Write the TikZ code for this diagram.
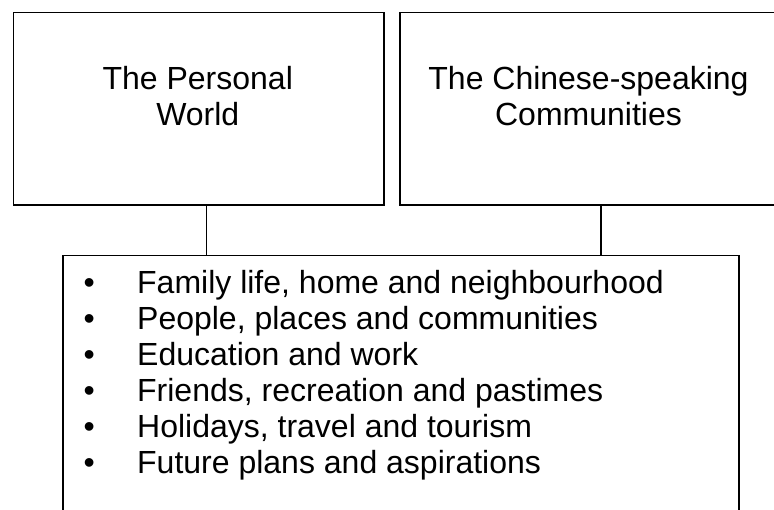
\documentclass[tikz,border=0pt]{standalone}
\usepackage{fontspec}
\setmainfont{Liberation Sans}
\tikzset{
  box/.style={draw=black, line width=1.7pt, anchor=north west, inner sep=0pt},
  link/.style={draw=black, line width=1.7pt},
  lbl/.style={inner sep=0pt, anchor=base, font=\fontsize{32}{36}\selectfont},
  lst/.style={inner sep=0pt, anchor=base west, font=\fontsize{32}{36.1}\selectfont}
}
\begin{document}
\begin{tikzpicture}[x=1pt,y=-1pt]
\useasboundingbox (0,0) rectangle (774,509);
\clip (0,0) rectangle (774,509);
\node[box, minimum width=370.5pt, minimum height=192.5pt] (pw) at (12.5,11.5) {};
\node[box, minimum width=379pt, minimum height=192.5pt] (cc) at (399,11.5) {};
\node[box, minimum width=676pt, minimum height=262pt] (list) at (62,254.5) {};
\node[lbl] (pwt) at (197.75,89) {\begin{tabular}[t]{@{}c@{}}The Personal\\World\end{tabular}};
\node[lbl] (cct) at (588.5,89) {\begin{tabular}[t]{@{}c@{}}The Chinese-speaking\\Communities\end{tabular}};
\node[lst] (items) at (79,293) {\begin{tabular}[t]{@{}c@{\hspace{38pt}}l@{}}
\makebox[20pt][c]{•} & Family life, home and neighbourhood\\
\makebox[20pt][c]{•} & People, places and communities\\
\makebox[20pt][c]{•} & Education and work\\
\makebox[20pt][c]{•} & Friends, recreation and pastimes\\
\makebox[20pt][c]{•} & Holidays, travel and tourism\\
\makebox[20pt][c]{•} & Future plans and aspirations
\end{tabular}};
\draw[link] ([xshift=8pt]pw.south) -- ([xshift=8pt]pw.south |- list.north);
\draw[link] ([xshift=11.5pt]cc.south) -- ([xshift=11.5pt]cc.south |- list.north);
\end{tikzpicture}
\end{document}
